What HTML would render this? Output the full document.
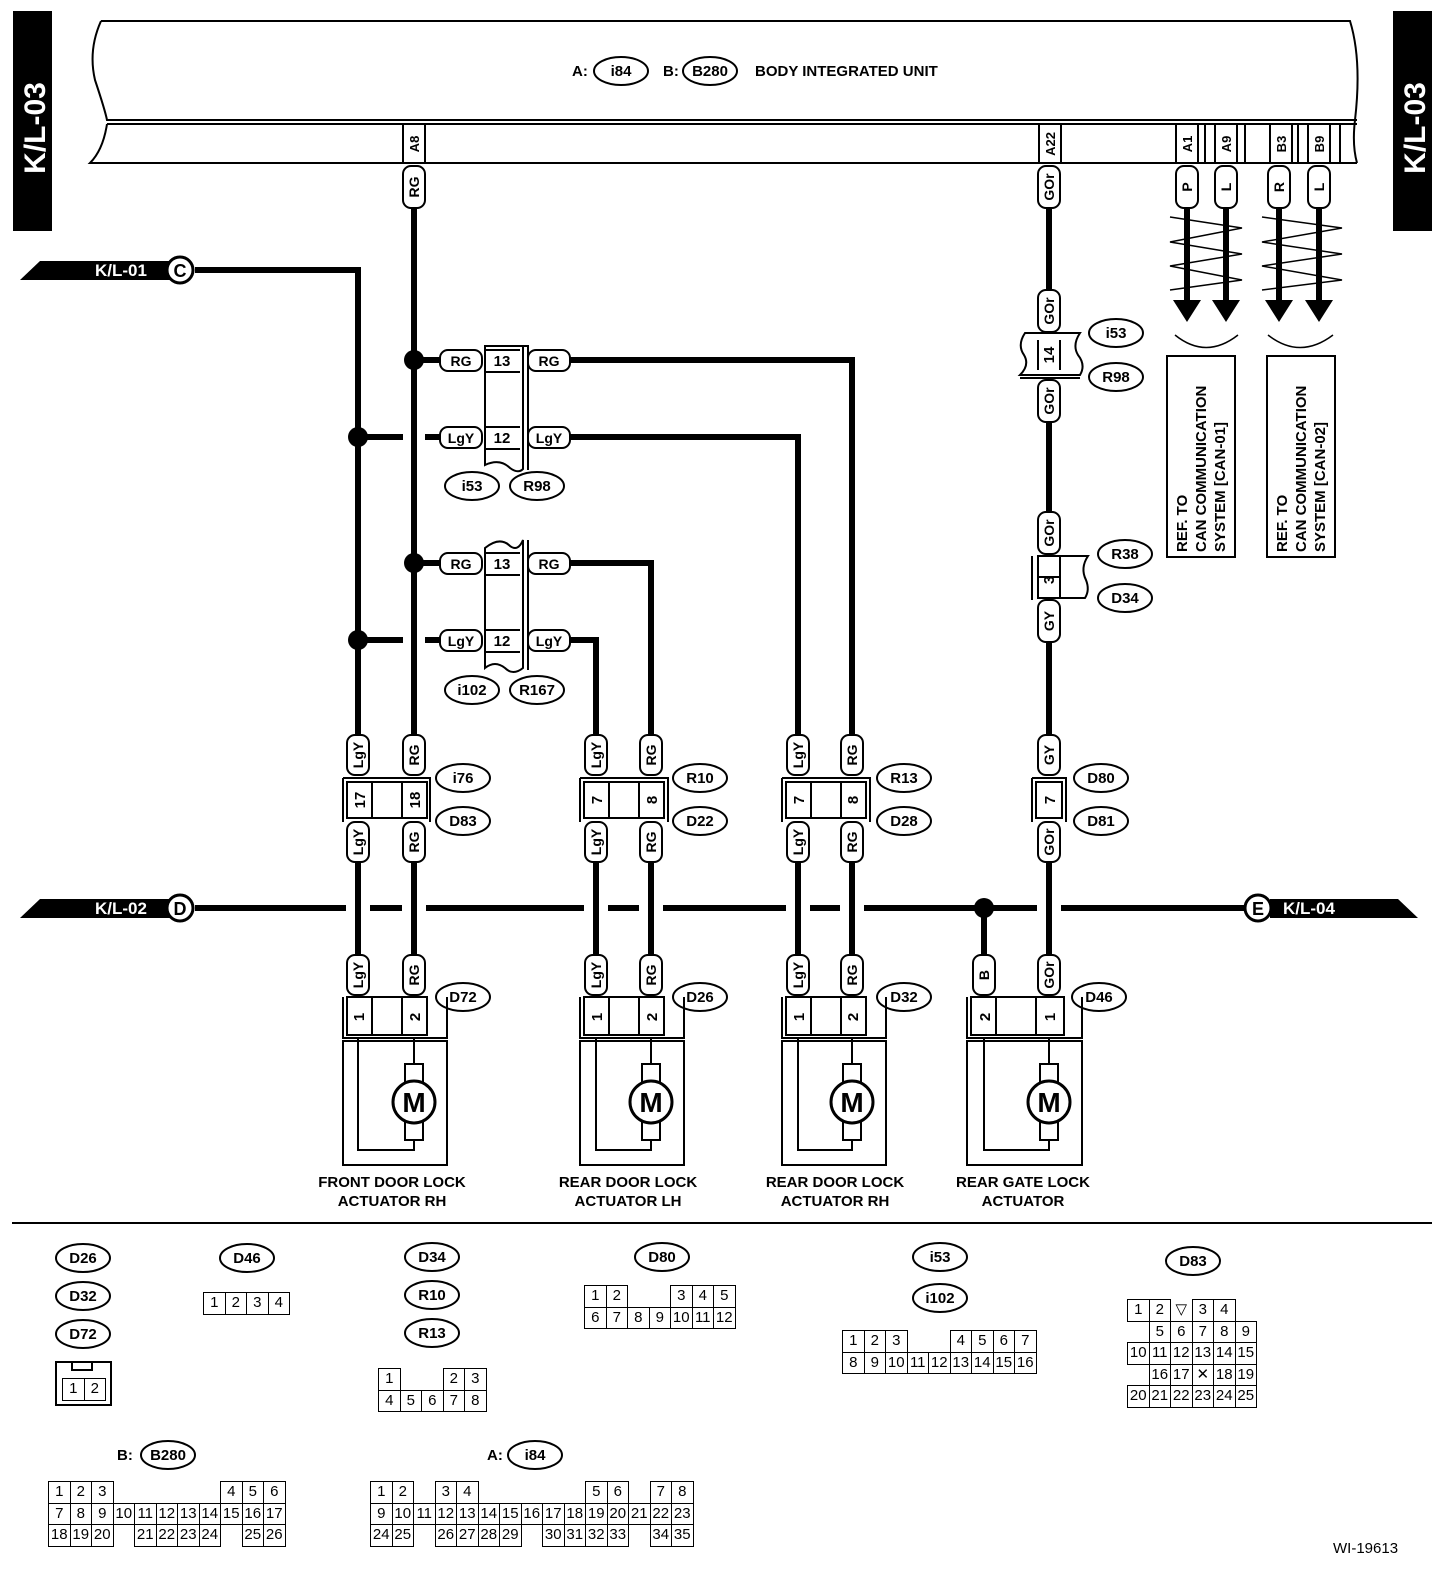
<!DOCTYPE html>
<html><head><meta charset="utf-8"><style>
body{margin:0;background:#fff;width:1456px;height:1576px;position:relative;overflow:hidden;font-family:"Liberation Sans",Arial,sans-serif}
svg{position:absolute;left:0;top:0}
.g{position:absolute;border-collapse:collapse;font-size:15px}
.g td{border:1.5px solid #000;width:20.5px;height:20.5px;padding:0;text-align:center;line-height:20px}
.g td.e{border:none}
</style></head><body>
<svg width="1456" height="1576" viewBox="0 0 1456 1576" font-family="Liberation Sans, Arial, sans-serif" font-weight="bold">
<rect x="13" y="11" width="39" height="220" fill="#000"/>
<text transform="translate(45,128) rotate(-90)" text-anchor="middle" fill="#fff" font-size="30">K/L-03</text>
<rect x="1393" y="11" width="39" height="220" fill="#000"/>
<text transform="translate(1425,128) rotate(-90)" text-anchor="middle" fill="#fff" font-size="30">K/L-03</text>
<g fill="none" stroke="#000" stroke-width="2">
<path d="M101 21 H1350 Q1362 60 1355 120 Q1352 145 1357 163"/>
<path d="M101 21 Q88 50 95 80 Q105 110 107 120 H1357"/>
<path d="M107 124 H1357"/>
<path d="M107 124 Q103 150 90 163 H1357"/>
<rect x="403" y="124" width="22" height="39"/>
<rect x="1039" y="124" width="22" height="39"/>
<rect x="1176" y="124" width="22" height="39"/><path d="M1205 124V163M1245 124V163M1298 124V163M1340 124V163"/>
<rect x="1215" y="124" width="22" height="39"/>
<rect x="1270" y="124" width="22" height="39"/>
<rect x="1308" y="124" width="22" height="39"/>
</g>
<g font-size="13">
<text transform="translate(419,144) rotate(-90)" text-anchor="middle">A8</text>
<text transform="translate(1055,144) rotate(-90)" text-anchor="middle">A22</text>
<text transform="translate(1192,144) rotate(-90)" text-anchor="middle">A1</text>
<text transform="translate(1231,144) rotate(-90)" text-anchor="middle">A9</text>
<text transform="translate(1286,144) rotate(-90)" text-anchor="middle">B3</text>
<text transform="translate(1324,144) rotate(-90)" text-anchor="middle">B9</text>
</g>
<g font-size="15">
<text x="572" y="76">A:</text><ellipse cx="621" cy="71" rx="27" ry="14" fill="none" stroke="#000" stroke-width="2"/><text x="621" y="76" text-anchor="middle">i84</text>
<text x="663" y="76">B:</text><ellipse cx="710" cy="71" rx="27" ry="14" fill="none" stroke="#000" stroke-width="2"/><text x="710" y="76" text-anchor="middle">B280</text>
<text x="755" y="76">BODY INTEGRATED UNIT</text>
</g>
<g fill="none" stroke="#000" stroke-width="6">
<path d="M414 208V735M195 270H358V735"/>
<path d="M414 360H440M358 437H403M425 437H440M414 563H440M358 640H403M425 640H440"/>
<path d="M570 360H852V735M570 437H798V735M570 563H651V735M570 640H596V735"/>
<path d="M1049 208V292M1049 420V512M1049 640V735"/>
<path d="M358 862V955M414 862V955M596 862V955M651 862V955M798 862V955M852 862V955M1049 862V955M984 908V955"/>
<path d="M195 908H346M370 908H402M426 908H584M608 908H639M663 908H786M810 908H840M864 908H1037M1061 908H1245"/>
<path d="M1187 208V305M1226 208V305M1279 208V305M1319 208V305"/>
</g>
<g fill="#000">
<circle cx="414" cy="360" r="10"/><circle cx="358" cy="437" r="10"/><circle cx="414" cy="563" r="10"/><circle cx="358" cy="640" r="10"/><circle cx="984" cy="908" r="10"/>
<polygon points="1173,300 1201,300 1187,322"/><polygon points="1212,300 1240,300 1226,322"/><polygon points="1265,300 1293,300 1279,322"/><polygon points="1305,300 1333,300 1319,322"/>
<polygon points="20,280 40,261 170,261 170,280"/>
<polygon points="20,918 40,899 170,899 170,918"/>
<polygon points="1270,899 1398,899 1418,918 1270,918"/>
</g>
<g fill="none" stroke="#000" stroke-width="1.5">
<path d="M1170 217L1242 228L1170 242L1242 254L1170 266L1242 280L1170 290"/>
<path d="M1262 217L1342 228L1262 242L1342 254L1262 266L1342 280L1262 290"/>
<path d="M1175 335Q1206 360 1238 335M1268 335Q1300 360 1333 335"/>
</g>
<rect x="1167" y="356" width="68" height="201" fill="none" stroke="#000" stroke-width="2"/>
<rect x="1267" y="356" width="68" height="201" fill="none" stroke="#000" stroke-width="2"/>
<g font-size="15">
<text transform="translate(1187,552) rotate(-90)">REF. TO</text>
<text transform="translate(1206,552) rotate(-90)">CAN COMMUNICATION</text>
<text transform="translate(1225,552) rotate(-90)">SYSTEM [CAN-01]</text>
<text transform="translate(1287,552) rotate(-90)">REF. TO</text>
<text transform="translate(1306,552) rotate(-90)">CAN COMMUNICATION</text>
<text transform="translate(1325,552) rotate(-90)">SYSTEM [CAN-02]</text>
</g>
<g font-size="17" fill="#fff"><text x="95" y="276">K/L-01</text><text x="95" y="914">K/L-02</text><text x="1283" y="914">K/L-04</text></g>
<g fill="#fff" stroke="#000" stroke-width="3"><circle cx="180" cy="270" r="13"/><circle cx="180" cy="908" r="13"/><circle cx="1258" cy="908" r="13"/></g>
<g font-size="18" text-anchor="middle"><text x="180" y="277">C</text><text x="180" y="915">D</text><text x="1258" y="915">E</text></g>
<g fill="#fff" stroke="#000" stroke-width="2">
<rect x="403" y="166" width="22" height="42" rx="8"/><rect x="1038" y="166" width="22" height="42" rx="8"/>
<rect x="1176" y="166" width="22" height="42" rx="8"/><rect x="1215" y="166" width="22" height="42" rx="8"/><rect x="1268" y="166" width="22" height="42" rx="8"/><rect x="1308" y="166" width="22" height="42" rx="8"/>
<rect x="1038" y="290" width="22" height="42" rx="8"/><rect x="1038" y="380" width="22" height="42" rx="8"/><rect x="1038" y="512" width="22" height="42" rx="8"/><rect x="1038" y="600" width="22" height="42" rx="8"/>
<rect x="347" y="735" width="22" height="40" rx="8"/><rect x="403" y="735" width="22" height="40" rx="8"/><rect x="585" y="735" width="22" height="40" rx="8"/><rect x="640" y="735" width="22" height="40" rx="8"/><rect x="787" y="735" width="22" height="40" rx="8"/><rect x="841" y="735" width="22" height="40" rx="8"/><rect x="1038" y="735" width="22" height="40" rx="8"/>
<rect x="347" y="822" width="22" height="40" rx="8"/><rect x="403" y="822" width="22" height="40" rx="8"/><rect x="585" y="822" width="22" height="40" rx="8"/><rect x="640" y="822" width="22" height="40" rx="8"/><rect x="787" y="822" width="22" height="40" rx="8"/><rect x="841" y="822" width="22" height="40" rx="8"/><rect x="1038" y="822" width="22" height="40" rx="8"/>
<rect x="347" y="955" width="22" height="40" rx="8"/><rect x="403" y="955" width="22" height="40" rx="8"/><rect x="585" y="955" width="22" height="40" rx="8"/><rect x="640" y="955" width="22" height="40" rx="8"/><rect x="787" y="955" width="22" height="40" rx="8"/><rect x="841" y="955" width="22" height="40" rx="8"/><rect x="973" y="955" width="22" height="40" rx="8"/><rect x="1038" y="955" width="22" height="40" rx="8"/>
<rect x="440" y="350" width="42" height="21" rx="8"/><rect x="528" y="350" width="42" height="21" rx="8"/>
<rect x="440" y="427" width="42" height="21" rx="8"/><rect x="528" y="427" width="42" height="21" rx="8"/>
<rect x="440" y="553" width="42" height="21" rx="8"/><rect x="528" y="553" width="42" height="21" rx="8"/>
<rect x="440" y="630" width="42" height="21" rx="8"/><rect x="528" y="630" width="42" height="21" rx="8"/>
</g>
<g font-size="14" text-anchor="middle">
<text transform="translate(419,187) rotate(-90)">RG</text><text transform="translate(1054,187) rotate(-90)">GOr</text>
<text transform="translate(1192,187) rotate(-90)">P</text><text transform="translate(1231,187) rotate(-90)">L</text><text transform="translate(1284,187) rotate(-90)">R</text><text transform="translate(1324,187) rotate(-90)">L</text>
<text transform="translate(1054,311) rotate(-90)">GOr</text><text transform="translate(1054,401) rotate(-90)">GOr</text><text transform="translate(1054,533) rotate(-90)">GOr</text><text transform="translate(1054,621) rotate(-90)">GY</text>
<text transform="translate(363,755) rotate(-90)">LgY</text><text transform="translate(419,755) rotate(-90)">RG</text><text transform="translate(601,755) rotate(-90)">LgY</text><text transform="translate(656,755) rotate(-90)">RG</text><text transform="translate(803,755) rotate(-90)">LgY</text><text transform="translate(857,755) rotate(-90)">RG</text><text transform="translate(1054,755) rotate(-90)">GY</text>
<text transform="translate(363,842) rotate(-90)">LgY</text><text transform="translate(419,842) rotate(-90)">RG</text><text transform="translate(601,842) rotate(-90)">LgY</text><text transform="translate(656,842) rotate(-90)">RG</text><text transform="translate(803,842) rotate(-90)">LgY</text><text transform="translate(857,842) rotate(-90)">RG</text><text transform="translate(1054,842) rotate(-90)">GOr</text>
<text transform="translate(363,975) rotate(-90)">LgY</text><text transform="translate(419,975) rotate(-90)">RG</text><text transform="translate(601,975) rotate(-90)">LgY</text><text transform="translate(656,975) rotate(-90)">RG</text><text transform="translate(803,975) rotate(-90)">LgY</text><text transform="translate(857,975) rotate(-90)">RG</text><text transform="translate(989,975) rotate(-90)">B</text><text transform="translate(1054,975) rotate(-90)">GOr</text>
<text x="461" y="366">RG</text><text x="549" y="366">RG</text><text x="461" y="443">LgY</text><text x="549" y="443">LgY</text>
<text x="461" y="569">RG</text><text x="549" y="569">RG</text><text x="461" y="646">LgY</text><text x="549" y="646">LgY</text>
</g>
<g fill="none" stroke="#000" stroke-width="2">
<path d="M485 346V465Q500 458 510 468Q518 474 523 469V346Z"/><path d="M485 346H528V470M485 350H520M485 372H520M485 427H520M485 449H520"/>
<path d="M485 548Q500 536 510 546Q518 552 523 540V668Q513 676 505 668Q495 660 485 668Z"/><path d="M528 540V670M485 553H520M485 575H520M485 630H520M485 652H520"/>
<path d="M1025 333H1080Q1072 345 1078 355Q1086 365 1080 375H1020Q1030 365 1024 355Q1017 345 1025 333Z"/><path d="M1038 340V370M1060 340V370M1020 378H1080"/>
<path d="M1038 556H1088Q1080 568 1086 580Q1090 590 1085 598H1038Z"/><path d="M1032 556V600M1038 577H1060M1060 556V598"/>
<path d="M343 778H430V822M343 778V822M347 782H427V818H347ZM372 782V818M402 782V818"/>
<path d="M580 778H668V822M580 778V822M584 782H664V818H584ZM609 782V818M639 782V818"/>
<path d="M782 778H870V822M782 778V822M786 782H866V818H786ZM811 782V818M841 782V818"/>
<path d="M1032 778H1066V822M1032 778V822M1036 782H1062V818H1036Z"/>
<path d="M343 997V1038H447V997M347 997H427V1035H347ZM372 997V1035M402 997V1035"/>
<rect x="343" y="1041" width="104" height="124"/><path d="M358 1038V1150H414V1140M414 1038V1064"/><rect x="405" y="1064" width="18" height="76"/>
<path d="M580 997V1038H684V997M584 997H664V1035H584ZM609 997V1035M639 997V1035"/>
<rect x="580" y="1041" width="104" height="124"/><path d="M596 1038V1150H651V1140M651 1038V1064"/><rect x="642" y="1064" width="18" height="76"/>
<path d="M782 997V1038H886V997M786 997H866V1035H786ZM811 997V1035M841 997V1035"/>
<rect x="782" y="1041" width="104" height="124"/><path d="M798 1038V1150H852V1140M852 1038V1064"/><rect x="843" y="1064" width="18" height="76"/>
<path d="M967 997V1038H1082V997M971 997H1064V1035H971ZM996 997V1035M1036 997V1035"/>
<rect x="967" y="1041" width="115" height="124"/><path d="M984 1038V1150H1049V1140M1049 1038V1064"/><rect x="1040" y="1064" width="18" height="76"/>
</g>
<g fill="#fff" stroke="#000" stroke-width="3"><circle cx="414" cy="1102" r="21"/><circle cx="651" cy="1102" r="21"/><circle cx="852" cy="1102" r="21"/><circle cx="1049" cy="1102" r="21"/></g>
<g font-size="28" text-anchor="middle"><text x="414" y="1112">M</text><text x="651" y="1112">M</text><text x="852" y="1112">M</text><text x="1049" y="1112">M</text></g>
<g font-size="15" text-anchor="middle">
<text x="502" y="366">13</text><text x="502" y="443">12</text><text x="502" y="569">13</text><text x="502" y="646">12</text>
<text transform="translate(1054,355) rotate(-90)">14</text><text transform="translate(1054,580) rotate(-90)">3</text>
<text transform="translate(365,800) rotate(-90)">17</text><text transform="translate(420,800) rotate(-90)">18</text>
<text transform="translate(602,800) rotate(-90)">7</text><text transform="translate(657,800) rotate(-90)">8</text>
<text transform="translate(804,800) rotate(-90)">7</text><text transform="translate(858,800) rotate(-90)">8</text>
<text transform="translate(1055,800) rotate(-90)">7</text>
<text transform="translate(364,1017) rotate(-90)">1</text><text transform="translate(420,1017) rotate(-90)">2</text>
<text transform="translate(602,1017) rotate(-90)">1</text><text transform="translate(657,1017) rotate(-90)">2</text>
<text transform="translate(804,1017) rotate(-90)">1</text><text transform="translate(858,1017) rotate(-90)">2</text>
<text transform="translate(990,1017) rotate(-90)">2</text><text transform="translate(1055,1017) rotate(-90)">1</text>
</g>
<g fill="none" stroke="#000" stroke-width="2">
<ellipse cx="472" cy="486" rx="27" ry="14"/><ellipse cx="537" cy="486" rx="27" ry="14"/>
<ellipse cx="472" cy="690" rx="27" ry="14"/><ellipse cx="537" cy="690" rx="27" ry="14"/>
<ellipse cx="1116" cy="333" rx="27" ry="14"/><ellipse cx="1116" cy="377" rx="27" ry="14"/>
<ellipse cx="1125" cy="554" rx="27" ry="14"/><ellipse cx="1125" cy="598" rx="27" ry="14"/>
<ellipse cx="463" cy="778" rx="27" ry="14"/><ellipse cx="463" cy="821" rx="27" ry="14"/>
<ellipse cx="700" cy="778" rx="27" ry="14"/><ellipse cx="700" cy="821" rx="27" ry="14"/>
<ellipse cx="904" cy="778" rx="27" ry="14"/><ellipse cx="904" cy="821" rx="27" ry="14"/>
<ellipse cx="1101" cy="778" rx="27" ry="14"/><ellipse cx="1101" cy="821" rx="27" ry="14"/>
<ellipse cx="463" cy="997" rx="27" ry="14"/><ellipse cx="700" cy="997" rx="27" ry="14"/><ellipse cx="904" cy="997" rx="27" ry="14"/><ellipse cx="1099" cy="997" rx="27" ry="14"/>
<ellipse cx="83" cy="1258" rx="27" ry="14"/><ellipse cx="83" cy="1296" rx="27" ry="14"/><ellipse cx="83" cy="1334" rx="27" ry="14"/>
<ellipse cx="247" cy="1258" rx="27" ry="14"/>
<ellipse cx="432" cy="1257" rx="27" ry="14"/><ellipse cx="432" cy="1295" rx="27" ry="14"/><ellipse cx="432" cy="1333" rx="27" ry="14"/>
<ellipse cx="662" cy="1257" rx="27" ry="14"/>
<ellipse cx="940" cy="1257" rx="27" ry="14"/><ellipse cx="940" cy="1298" rx="27" ry="14"/>
<ellipse cx="1193" cy="1261" rx="27" ry="14"/>
<ellipse cx="168" cy="1455" rx="27" ry="14"/><ellipse cx="535" cy="1455" rx="27" ry="14"/>
<path d="M12 1223H1432"/>
<rect x="56" y="1362" width="55" height="43"/><rect x="72" y="1362" width="20" height="8"/>
</g>
<g font-size="15" text-anchor="middle">
<text x="472" y="491">i53</text><text x="537" y="491">R98</text><text x="472" y="695">i102</text><text x="537" y="695">R167</text>
<text x="1116" y="338">i53</text><text x="1116" y="382">R98</text><text x="1125" y="559">R38</text><text x="1125" y="603">D34</text>
<text x="463" y="783">i76</text><text x="463" y="826">D83</text><text x="700" y="783">R10</text><text x="700" y="826">D22</text>
<text x="904" y="783">R13</text><text x="904" y="826">D28</text><text x="1101" y="783">D80</text><text x="1101" y="826">D81</text>
<text x="463" y="1002">D72</text><text x="700" y="1002">D26</text><text x="904" y="1002">D32</text><text x="1099" y="1002">D46</text>
<text x="83" y="1263">D26</text><text x="83" y="1301">D32</text><text x="83" y="1339">D72</text>
<text x="247" y="1263">D46</text>
<text x="432" y="1262">D34</text><text x="432" y="1300">R10</text><text x="432" y="1338">R13</text>
<text x="662" y="1262">D80</text><text x="940" y="1262">i53</text><text x="940" y="1303">i102</text><text x="1193" y="1266">D83</text>
<text x="168" y="1460">B280</text><text x="535" y="1460">i84</text>
<text x="392" y="1187">FRONT DOOR LOCK</text><text x="392" y="1206">ACTUATOR RH</text>
<text x="628" y="1187">REAR DOOR LOCK</text><text x="628" y="1206">ACTUATOR LH</text>
<text x="835" y="1187">REAR DOOR LOCK</text><text x="835" y="1206">ACTUATOR RH</text>
<text x="1023" y="1187">REAR GATE LOCK</text><text x="1023" y="1206">ACTUATOR</text>
</g>
<g font-size="15"><text x="117" y="1460">B:</text><text x="487" y="1460">A:</text><text x="1333" y="1553" font-weight="normal">WI-19613</text></g>
</svg>

<table class="g" style="left:62px;top:1378px"><tr><td>1</td><td>2</td></tr></table>
<table class="g" style="left:203px;top:1292px"><tr><td>1</td><td>2</td><td>3</td><td>4</td></tr></table>
<table class="g" style="left:378px;top:1368px"><tr><td>1</td><td class="e"></td><td class="e"></td><td>2</td><td>3</td></tr><tr><td>4</td><td>5</td><td>6</td><td>7</td><td>8</td></tr></table>
<table class="g" style="left:584px;top:1285px"><tr><td>1</td><td>2</td><td class="e"></td><td class="e"></td><td>3</td><td>4</td><td>5</td></tr><tr><td>6</td><td>7</td><td>8</td><td>9</td><td>10</td><td>11</td><td>12</td></tr></table>
<table class="g" style="left:842px;top:1330px"><tr><td>1</td><td>2</td><td>3</td><td class="e"></td><td class="e"></td><td>4</td><td>5</td><td>6</td><td>7</td></tr><tr><td>8</td><td>9</td><td>10</td><td>11</td><td>12</td><td>13</td><td>14</td><td>15</td><td>16</td></tr></table>
<table class="g" style="left:1127px;top:1299px"><tr><td>1</td><td>2</td><td class="e">▽</td><td>3</td><td>4</td><td class="e"></td></tr><tr><td class="e"></td><td>5</td><td>6</td><td>7</td><td>8</td><td>9</td></tr><tr><td>10</td><td>11</td><td>12</td><td>13</td><td>14</td><td>15</td></tr><tr><td class="e"></td><td>16</td><td>17</td><td>✕</td><td>18</td><td>19</td></tr><tr><td>20</td><td>21</td><td>22</td><td>23</td><td>24</td><td>25</td></tr></table>
<table class="g" style="left:48px;top:1481px"><tr><td>1</td><td>2</td><td>3</td><td class="e"></td><td class="e"></td><td class="e"></td><td class="e"></td><td class="e"></td><td>4</td><td>5</td><td>6</td></tr><tr><td>7</td><td>8</td><td>9</td><td>10</td><td>11</td><td>12</td><td>13</td><td>14</td><td>15</td><td>16</td><td>17</td></tr><tr><td>18</td><td>19</td><td>20</td><td class="e"></td><td>21</td><td>22</td><td>23</td><td>24</td><td class="e"></td><td>25</td><td>26</td></tr></table>
<table class="g" style="left:370px;top:1481px"><tr><td>1</td><td>2</td><td class="e"></td><td>3</td><td>4</td><td class="e"></td><td class="e"></td><td class="e"></td><td class="e"></td><td class="e"></td><td>5</td><td>6</td><td class="e"></td><td>7</td><td>8</td></tr><tr><td>9</td><td>10</td><td>11</td><td>12</td><td>13</td><td>14</td><td>15</td><td>16</td><td>17</td><td>18</td><td>19</td><td>20</td><td>21</td><td>22</td><td>23</td></tr><tr><td>24</td><td>25</td><td class="e"></td><td>26</td><td>27</td><td>28</td><td>29</td><td class="e"></td><td>30</td><td>31</td><td>32</td><td>33</td><td class="e"></td><td>34</td><td>35</td></tr></table>
</body></html>
